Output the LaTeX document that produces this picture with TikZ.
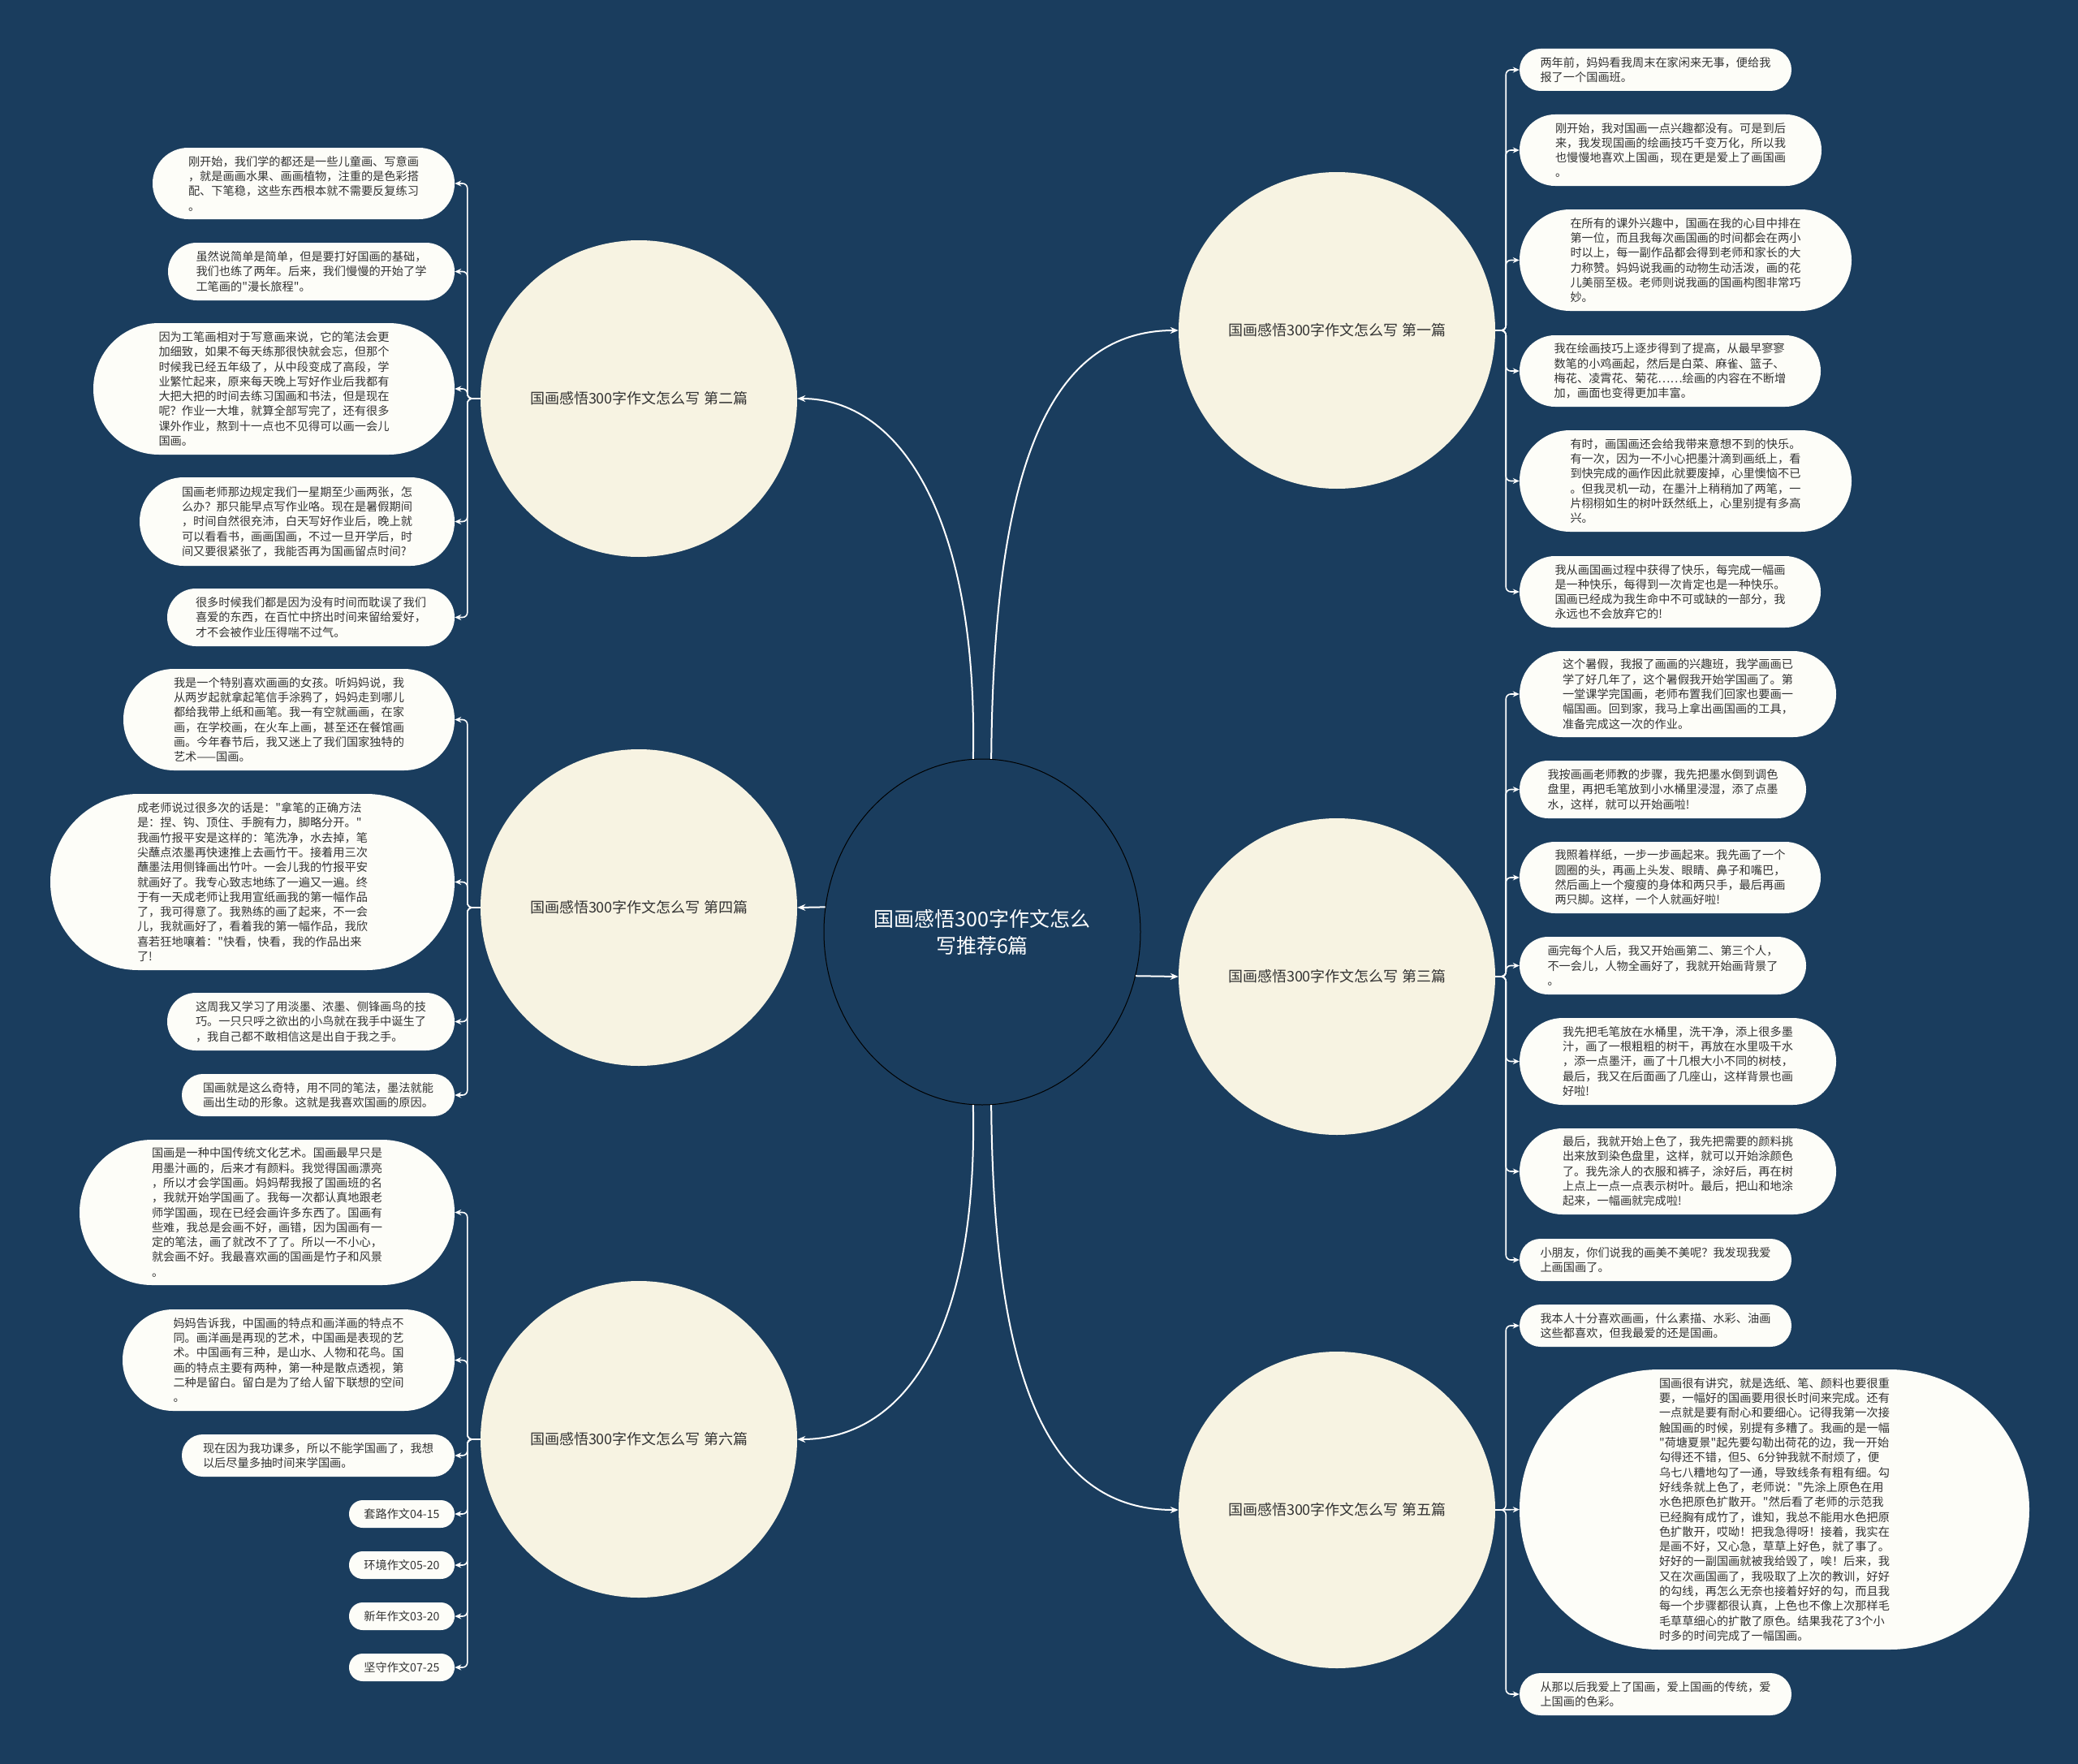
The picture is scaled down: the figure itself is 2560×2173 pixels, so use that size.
\documentclass[tikz,border=0pt]{standalone}
\usepackage{fontspec}
\setmainfont{Noto Sans CJK SC}
\newfontfamily\cjkplain{Noto Sans CJK SC}
\usetikzlibrary{arrows.meta,shapes.geometric}
\definecolor{bg}{RGB}{26,61,94}
\definecolor{cream}{RGB}{247,243,226}
\definecolor{leaffill}{RGB}{253,253,248}
\definecolor{ink}{RGB}{51,51,51}
\begin{document}
\begin{tikzpicture}[x=1pt,y=-1pt,
  leaf/.style 2 args={fill=leaffill, text=ink, align=left, inner sep=0pt,
    minimum width=#1pt, minimum height=#2pt, rounded corners={#2*0.5pt-0.2pt},
    font=\cjkplain\fontsize{14.2}{18.3}\selectfont},
  topic/.style={circle, fill=cream, minimum size=390pt, inner sep=0pt, text=ink,
    font=\cjkplain\fontsize{18}{22}\selectfont},
  rootnode/.style={ellipse, draw=black, line width=1pt, fill=bg, minimum width=390pt,
    minimum height=426pt, inner sep=0pt, text=white, align=center,
    font=\cjkplain\fontsize{25}{33}\selectfont},
  link/.style={draw=white, line width=2pt, -{Stealth[length=10pt,width=8pt]}},
  branch/.style={draw=white, line width=1.6pt, rounded corners=6pt, -{Stealth[length=8pt,width=7pt]}}
]
\useasboundingbox (0,0) rectangle (2560,2173);
\fill[bg] (0,0) rectangle (2560,2173);

% root and topics
\node[rootnode] (root) at (1210,1148) {国画感悟300字作文怎么\\写推荐6篇};
\node[topic] (c1) at (1647,407) {国画感悟300字作文怎么写 第一篇};
\node[topic] (c3) at (1647,1203) {国画感悟300字作文怎么写 第三篇};
\node[topic] (c5) at (1647,1860) {国画感悟300字作文怎么写 第五篇};
\node[topic] (c2) at (787,491) {国画感悟300字作文怎么写 第二篇};
\node[topic] (c4) at (787,1118) {国画感悟300字作文怎么写 第四篇};
\node[topic] (c6) at (787,1773) {国画感悟300字作文怎么写 第六篇};

\draw[link] (root.87) .. controls (1224,580) and (1290,407) .. (c1.west);
\draw[link] (root.93) .. controls (1205,640) and (1110,491) .. (c2.east);
\draw[link] (root.-87) .. controls (1224,1700) and (1290,1860) .. (c5.west);
\draw[link] (root.-93) .. controls (1205,1650) and (1110,1773) .. (c6.east);
\draw[link] (root.-16) -- (c3.west);
\draw[link] (root.171) -- (c4.east);

% left leaves: 第二篇
\node[leaf={372}{88}] (l21) at (374,226) {刚开始，我们学的都还是一些儿童画、写意画\\，就是画画水果、画画植物，注重的是色彩搭\\配、下笔稳，这些东西根本就不需要反复练习\\。};
\node[leaf={353}{71}] (l22) at (383.5,334.5) {虽然说简单是简单，但是要打好国画的基础，\\我们也练了两年。后来，我们慢慢的开始了学\\工笔画的"漫长旅程"。};
\node[leaf={445}{162}] (l23) at (337.5,479) {因为工笔画相对于写意画来说，它的笔法会更\\加细致，如果不每天练那很快就会忘，但那个\\时候我已经五年级了，从中段变成了高段，学\\业繁忙起来，原来每天晚上写好作业后我都有\\大把大把的时间去练习国画和书法，但是现在\\呢？作业一大堆，就算全部写完了，还有很多\\课外作业，熬到十一点也不见得可以画一会儿\\国画。};
\node[leaf={388}{109}] (l24) at (366,642.5) {国画老师那边规定我们一星期至少画两张，怎\\么办？那只能早点写作业咯。现在是暑假期间\\，时间自然很充沛，白天写好作业后，晚上就\\可以看看书，画画国画，不过一旦开学后，时\\间又要很紧张了，我能否再为国画留点时间?};
\node[leaf={354}{71}] (l25) at (383,760.5) {很多时候我们都是因为没有时间而耽误了我们\\喜爱的东西，在百忙中挤出时间来留给爱好，\\才不会被作业压得喘不过气。};

% left leaves: 第四篇
\node[leaf={408}{125}] (l41) at (356,886.5) {我是一个特别喜欢画画的女孩。听妈妈说，我\\从两岁起就拿起笔信手涂鸦了，妈妈走到哪儿\\都给我带上纸和画笔。我一有空就画画，在家\\画，在学校画，在火车上画，甚至还在餐馆画\\画。今年春节后，我又迷上了我们国家独特的\\艺术——国画。};
\node[leaf={498}{217}] (l42) at (311,1086.5) {成老师说过很多次的话是："拿笔的正确方法\\是：捏、钩、顶住、手腕有力，脚略分开。"\\我画竹报平安是这样的：笔洗净，水去掉，笔\\尖蘸点浓墨再快速推上去画竹干。接着用三次\\蘸墨法用侧锋画出竹叶。一会儿我的竹报平安\\就画好了。我专心致志地练了一遍又一遍。终\\于有一天成老师让我用宣纸画我的第一幅作品\\了，我可得意了。我熟练的画了起来，不一会\\儿，我就画好了，看着我的第一幅作品，我欣\\喜若狂地嚷着："快看，快看，我的作品出来\\了!};
\node[leaf={354}{71}] (l43) at (383,1258.5) {这周我又学习了用淡墨、浓墨、侧锋画鸟的技\\巧。一只只呼之欲出的小鸟就在我手中诞生了\\，我自己都不敢相信这是出自于我之手。};
\node[leaf={336}{52}] (l44) at (392,1349) {国画就是这么奇特，用不同的笔法，墨法就能\\画出生动的形象。这就是我喜欢国画的原因。};

% left leaves: 第六篇
\node[leaf={462}{179}] (l61) at (329,1493.5) {国画是一种中国传统文化艺术。国画最早只是\\用墨汁画的，后来才有颜料。我觉得国画漂亮\\，所以才会学国画。妈妈帮我报了国画班的名\\，我就开始学国画了。我每一次都认真地跟老\\师学国画，现在已经会画许多东西了。国画有\\些难，我总是会画不好，画错，因为国画有一\\定的笔法，画了就改不了了。所以一不小心，\\就会画不好。我最喜欢画的国画是竹子和风景\\。};
\node[leaf={409}{125}] (l62) at (355.5,1675.5) {妈妈告诉我，中国画的特点和画洋画的特点不\\同。画洋画是再现的艺术，中国画是表现的艺\\术。中国画有三种，是山水、人物和花鸟。国\\画的特点主要有两种，第一种是散点透视，第\\二种是留白。留白是为了给人留下联想的空间\\。};
\node[leaf={336}{52}] (l63) at (392,1793) {现在因为我功课多，所以不能学国画了，我想\\以后尽量多抽时间来学国画。};
\node[leaf={130}{34}] (l64) at (495,1865) {套路作文04-15};
\node[leaf={130}{34}] (l65) at (495,1928) {环境作文05-20};
\node[leaf={130}{34}] (l66) at (495,1991) {新年作文03-20};
\node[leaf={130}{34}] (l67) at (495,2054) {坚守作文07-25};

% right leaves: 第一篇
\node[leaf={335}{52}] (r11) at (2039.5,86) {两年前，妈妈看我周末在家闲来无事，便给我\\报了一个国画班。};
\node[leaf={372}{88}] (r12) at (2058,185) {刚开始，我对国画一点兴趣都没有。可是到后\\来，我发现国画的绘画技巧千变万化，所以我\\也慢慢地喜欢上国画，现在更是爱上了画国画\\。};
\node[leaf={409}{125}] (r13) at (2076.5,320.5) {在所有的课外兴趣中，国画在我的心目中排在\\第一位，而且我每次画国画的时间都会在两小\\时以上，每一副作品都会得到老师和家长的大\\力称赞。妈妈说我画的动物生动活泼，画的花\\儿美丽至极。老师则说我画的国画构图非常巧\\妙。};
\node[leaf={371}{88}] (r14) at (2057.5,457) {我在绘画技巧上逐步得到了提高，从最早寥寥\\数笔的小鸡画起，然后是白菜、麻雀、篮子、\\梅花、凌霄花、菊花……绘画的内容在不断增\\加，画面也变得更加丰富。};
\node[leaf={409}{125}] (r15) at (2076.5,592.5) {有时，画国画还会给我带来意想不到的快乐。\\有一次，因为一不小心把墨汁滴到画纸上，看\\到快完成的画作因此就要废掉，心里懊恼不已\\。但我灵机一动，在墨汁上稍稍加了两笔，一\\片栩栩如生的树叶跃然纸上，心里别提有多高\\兴。};
\node[leaf={371}{88}] (r16) at (2057.5,729) {我从画国画过程中获得了快乐，每完成一幅画\\是一种快乐，每得到一次肯定也是一种快乐。\\国画已经成为我生命中不可或缺的一部分，我\\永远也不会放弃它的!};

% right leaves: 第三篇
\node[leaf={390}{106}] (r31) at (2067,855) {这个暑假，我报了画画的兴趣班，我学画画已\\学了好几年了，这个暑假我开始学国画了。第\\一堂课学完国画，老师布置我们回家也要画一\\幅国画。回到家，我马上拿出画国画的工具，\\准备完成这一次的作业。};
\node[leaf={353}{71}] (r32) at (2048.5,972.5) {我按画画老师教的步骤，我先把墨水倒到调色\\盘里，再把毛笔放到小水桶里浸湿，添了点墨\\水，这样，就可以开始画啦!};
\node[leaf={371}{88}] (r33) at (2057.5,1081) {我照着样纸，一步一步画起来。我先画了一个\\圆圈的头，再画上头发、眼睛、鼻子和嘴巴，\\然后画上一个瘦瘦的身体和两只手，最后再画\\两只脚。这样，一个人就画好啦!};
\node[leaf={353}{71}] (r34) at (2048.5,1189.5) {画完每个人后，我又开始画第二、第三个人，\\不一会儿，人物全画好了，我就开始画背景了\\。};
\node[leaf={390}{107}] (r35) at (2067,1307.5) {我先把毛笔放在水桶里，洗干净，添上很多墨\\汁，画了一根粗粗的树干，再放在水里吸干水\\，添一点墨汗，画了十几根大小不同的树枝，\\最后，我又在后面画了几座山，这样背景也画\\好啦!};
\node[leaf={390}{106}] (r36) at (2067,1443) {最后，我就开始上色了，我先把需要的颜料挑\\出来放到染色盘里，这样，就可以开始涂颜色\\了。我先涂人的衣服和裤子，涂好后，再在树\\上点上一点一点表示树叶。最后，把山和地涂\\起来，一幅画就完成啦!};
\node[leaf={335}{52}] (r37) at (2039.5,1552) {小朋友，你们说我的画美不美呢？我发现我爱\\上画国画了。};

% right leaves: 第五篇
\node[leaf={335}{52}] (r51) at (2039.5,1633) {我本人十分喜欢画画，什么素描、水彩、油画\\这些都喜欢，但我最爱的还是国画。};
\node[leaf={628}{345}] (r52) at (2186,1859.5) {国画很有讲究，就是选纸、笔、颜料也要很重\\要，一幅好的国画要用很长时间来完成。还有\\一点就是要有耐心和要细心。记得我第一次接\\触国画的时候，别提有多糟了。我画的是一幅\\"荷塘夏景"起先要勾勒出荷花的边，我一开始\\勾得还不错，但5、6分钟我就不耐烦了，便\\乌七八糟地勾了一通，导致线条有粗有细。勾\\好线条就上色了，老师说："先涂上原色在用\\水色把原色扩散开。"然后看了老师的示范我\\已经胸有成竹了，谁知，我总不能用水色把原\\色扩散开，哎呦！把我急得呀！接着，我实在\\是画不好，又心急，草草上好色，就了事了。\\好好的一副国画就被我给毁了，唉！后来，我\\又在次画国画了，我吸取了上次的教训，好好\\的勾线，再怎么无奈也接着好好的勾，而且我\\每一个步骤都很认真，上色也不像上次那样毛\\毛草草细心的扩散了原色。结果我花了3个小\\时多的时间完成了一幅国画。};
\node[leaf={335}{52}] (r53) at (2039.5,2087) {从那以后我爱上了国画，爱上国画的传统，爱\\上国画的色彩。};

% branches right
\foreach \leafname in {r11,r12,r13,r14,r15,r16}
  \draw[branch] (c1.east) -- ++(13,0) |- (\leafname.west);
\foreach \leafname in {r31,r32,r33,r34,r35,r36,r37}
  \draw[branch] (c3.east) -- ++(13,0) |- (\leafname.west);
\foreach \leafname in {r51,r53}
  \draw[branch] (c5.east) -- ++(13,0) |- (\leafname.west);
\draw[branch] (c5.east) -- (r52.west);

% branches left
\foreach \leafname in {l21,l22,l23,l24,l25}
  \draw[branch] (c2.west) -- ++(-16,0) |- (\leafname.east);
\foreach \leafname in {l41,l42,l43,l44}
  \draw[branch] (c4.west) -- ++(-16,0) |- (\leafname.east);
\foreach \leafname in {l61,l62,l63,l64,l65,l66,l67}
  \draw[branch] (c6.west) -- ++(-16,0) |- (\leafname.east);
\end{tikzpicture}
\end{document}
